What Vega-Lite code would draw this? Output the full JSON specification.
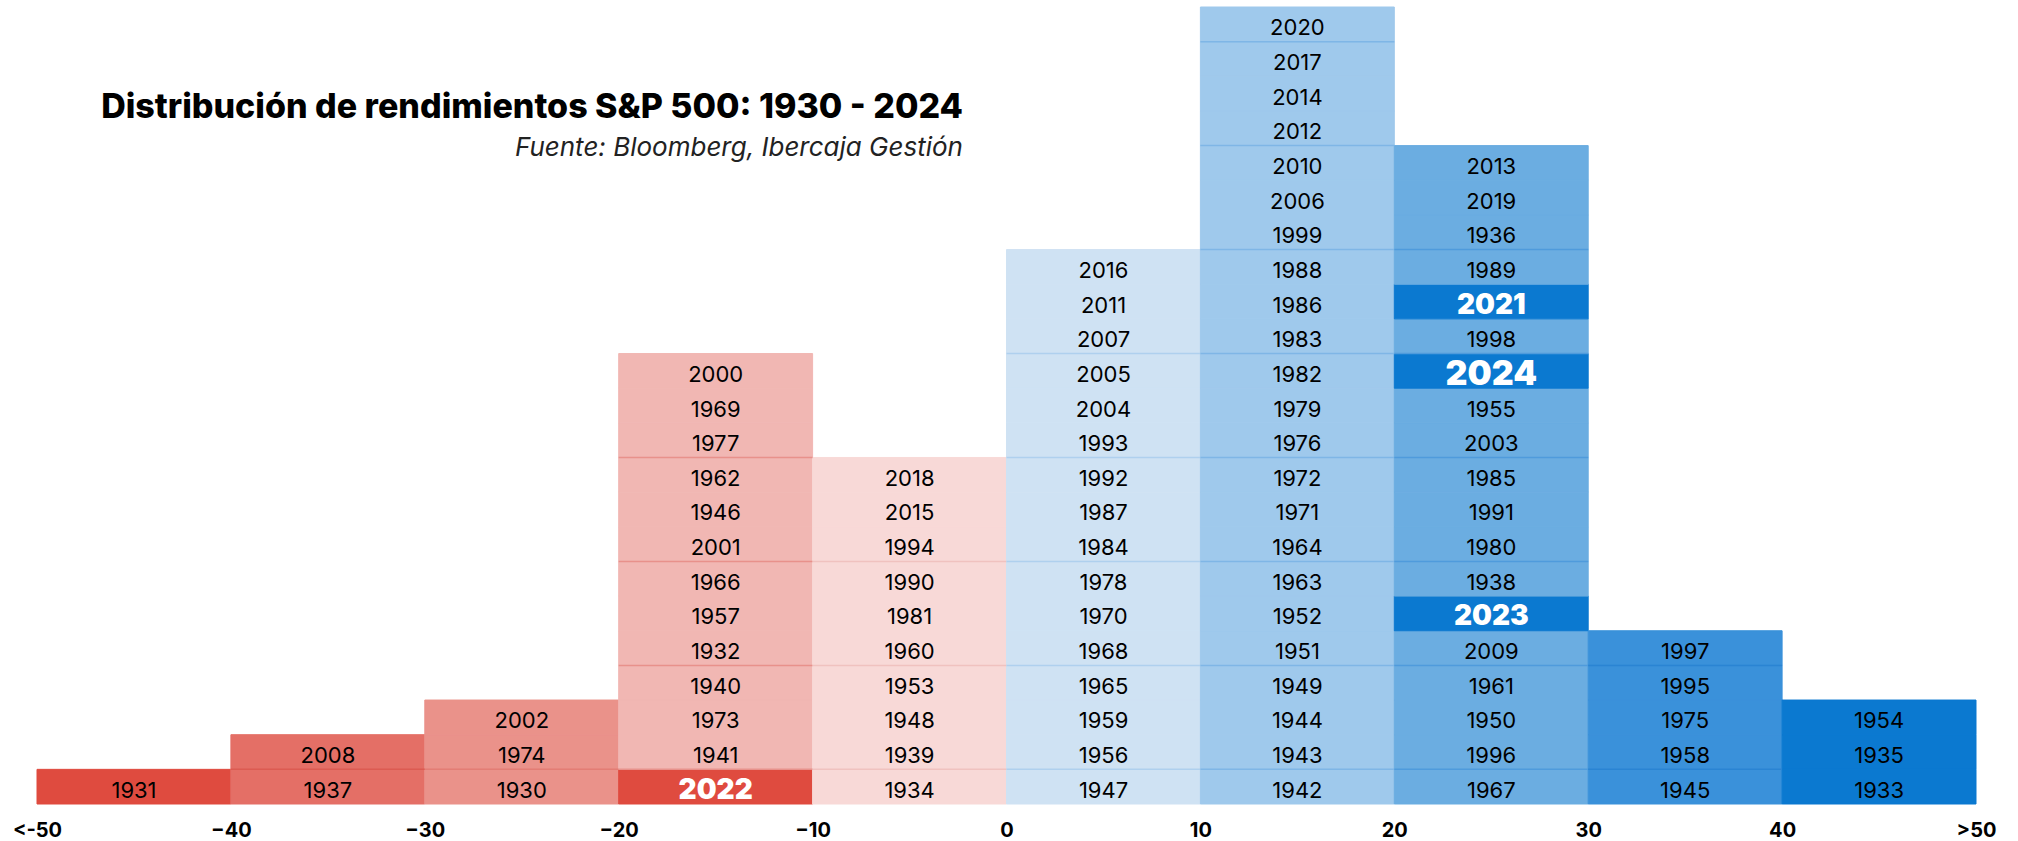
{
  "$schema": "https://vega.github.io/schema/vega-lite/v6.json",
  "width": 1939,
  "height": 797,
  "autosize": {"type": "none"},
  "padding": {"left": 37, "top": 7, "right": 42, "bottom": 37},
  "background": "white",
  "config": {"view": {"stroke": null}},
  "title": {
    "text": "Distribución de rendimientos S&P 500: 1930 - 2024",
    "subtitle": "Fuente: Bloomberg, Ibercaja Gestión",
    "anchor": "end",
    "frame": "group",
    "orient": "top",
    "dx": -1013,
    "dy": 158,
    "font": "Inter",
    "fontSize": 34,
    "fontWeight": 800,
    "color": "black",
    "subtitleFont": "Inter",
    "subtitleFontSize": 26,
    "subtitleFontStyle": "italic",
    "subtitleColor": "#222222",
    "subtitlePadding": 10
  },
  "resolve": {"scale": {"stroke": "independent"}},
  "data": {
    "values": [
      {"year": 1931, "lo": -50, "hi": -40, "rank": 1, "hl": false},
      {"year": 1937, "lo": -40, "hi": -30, "rank": 1, "hl": false},
      {"year": 2008, "lo": -40, "hi": -30, "rank": 2, "hl": false},
      {"year": 1930, "lo": -30, "hi": -20, "rank": 1, "hl": false},
      {"year": 1974, "lo": -30, "hi": -20, "rank": 2, "hl": false},
      {"year": 2002, "lo": -30, "hi": -20, "rank": 3, "hl": false},
      {"year": 2022, "lo": -20, "hi": -10, "rank": 1, "hl": true},
      {"year": 1941, "lo": -20, "hi": -10, "rank": 2, "hl": false},
      {"year": 1973, "lo": -20, "hi": -10, "rank": 3, "hl": false},
      {"year": 1940, "lo": -20, "hi": -10, "rank": 4, "hl": false},
      {"year": 1932, "lo": -20, "hi": -10, "rank": 5, "hl": false},
      {"year": 1957, "lo": -20, "hi": -10, "rank": 6, "hl": false},
      {"year": 1966, "lo": -20, "hi": -10, "rank": 7, "hl": false},
      {"year": 2001, "lo": -20, "hi": -10, "rank": 8, "hl": false},
      {"year": 1946, "lo": -20, "hi": -10, "rank": 9, "hl": false},
      {"year": 1962, "lo": -20, "hi": -10, "rank": 10, "hl": false},
      {"year": 1977, "lo": -20, "hi": -10, "rank": 11, "hl": false},
      {"year": 1969, "lo": -20, "hi": -10, "rank": 12, "hl": false},
      {"year": 2000, "lo": -20, "hi": -10, "rank": 13, "hl": false},
      {"year": 1934, "lo": -10, "hi": 0, "rank": 1, "hl": false},
      {"year": 1939, "lo": -10, "hi": 0, "rank": 2, "hl": false},
      {"year": 1948, "lo": -10, "hi": 0, "rank": 3, "hl": false},
      {"year": 1953, "lo": -10, "hi": 0, "rank": 4, "hl": false},
      {"year": 1960, "lo": -10, "hi": 0, "rank": 5, "hl": false},
      {"year": 1981, "lo": -10, "hi": 0, "rank": 6, "hl": false},
      {"year": 1990, "lo": -10, "hi": 0, "rank": 7, "hl": false},
      {"year": 1994, "lo": -10, "hi": 0, "rank": 8, "hl": false},
      {"year": 2015, "lo": -10, "hi": 0, "rank": 9, "hl": false},
      {"year": 2018, "lo": -10, "hi": 0, "rank": 10, "hl": false},
      {"year": 1947, "lo": 0, "hi": 10, "rank": 1, "hl": false},
      {"year": 1956, "lo": 0, "hi": 10, "rank": 2, "hl": false},
      {"year": 1959, "lo": 0, "hi": 10, "rank": 3, "hl": false},
      {"year": 1965, "lo": 0, "hi": 10, "rank": 4, "hl": false},
      {"year": 1968, "lo": 0, "hi": 10, "rank": 5, "hl": false},
      {"year": 1970, "lo": 0, "hi": 10, "rank": 6, "hl": false},
      {"year": 1978, "lo": 0, "hi": 10, "rank": 7, "hl": false},
      {"year": 1984, "lo": 0, "hi": 10, "rank": 8, "hl": false},
      {"year": 1987, "lo": 0, "hi": 10, "rank": 9, "hl": false},
      {"year": 1992, "lo": 0, "hi": 10, "rank": 10, "hl": false},
      {"year": 1993, "lo": 0, "hi": 10, "rank": 11, "hl": false},
      {"year": 2004, "lo": 0, "hi": 10, "rank": 12, "hl": false},
      {"year": 2005, "lo": 0, "hi": 10, "rank": 13, "hl": false},
      {"year": 2007, "lo": 0, "hi": 10, "rank": 14, "hl": false},
      {"year": 2011, "lo": 0, "hi": 10, "rank": 15, "hl": false},
      {"year": 2016, "lo": 0, "hi": 10, "rank": 16, "hl": false},
      {"year": 1942, "lo": 10, "hi": 20, "rank": 1, "hl": false},
      {"year": 1943, "lo": 10, "hi": 20, "rank": 2, "hl": false},
      {"year": 1944, "lo": 10, "hi": 20, "rank": 3, "hl": false},
      {"year": 1949, "lo": 10, "hi": 20, "rank": 4, "hl": false},
      {"year": 1951, "lo": 10, "hi": 20, "rank": 5, "hl": false},
      {"year": 1952, "lo": 10, "hi": 20, "rank": 6, "hl": false},
      {"year": 1963, "lo": 10, "hi": 20, "rank": 7, "hl": false},
      {"year": 1964, "lo": 10, "hi": 20, "rank": 8, "hl": false},
      {"year": 1971, "lo": 10, "hi": 20, "rank": 9, "hl": false},
      {"year": 1972, "lo": 10, "hi": 20, "rank": 10, "hl": false},
      {"year": 1976, "lo": 10, "hi": 20, "rank": 11, "hl": false},
      {"year": 1979, "lo": 10, "hi": 20, "rank": 12, "hl": false},
      {"year": 1982, "lo": 10, "hi": 20, "rank": 13, "hl": false},
      {"year": 1983, "lo": 10, "hi": 20, "rank": 14, "hl": false},
      {"year": 1986, "lo": 10, "hi": 20, "rank": 15, "hl": false},
      {"year": 1988, "lo": 10, "hi": 20, "rank": 16, "hl": false},
      {"year": 1999, "lo": 10, "hi": 20, "rank": 17, "hl": false},
      {"year": 2006, "lo": 10, "hi": 20, "rank": 18, "hl": false},
      {"year": 2010, "lo": 10, "hi": 20, "rank": 19, "hl": false},
      {"year": 2012, "lo": 10, "hi": 20, "rank": 20, "hl": false},
      {"year": 2014, "lo": 10, "hi": 20, "rank": 21, "hl": false},
      {"year": 2017, "lo": 10, "hi": 20, "rank": 22, "hl": false},
      {"year": 2020, "lo": 10, "hi": 20, "rank": 23, "hl": false},
      {"year": 1967, "lo": 20, "hi": 30, "rank": 1, "hl": false},
      {"year": 1996, "lo": 20, "hi": 30, "rank": 2, "hl": false},
      {"year": 1950, "lo": 20, "hi": 30, "rank": 3, "hl": false},
      {"year": 1961, "lo": 20, "hi": 30, "rank": 4, "hl": false},
      {"year": 2009, "lo": 20, "hi": 30, "rank": 5, "hl": false},
      {"year": 2023, "lo": 20, "hi": 30, "rank": 6, "hl": true},
      {"year": 1938, "lo": 20, "hi": 30, "rank": 7, "hl": false},
      {"year": 1980, "lo": 20, "hi": 30, "rank": 8, "hl": false},
      {"year": 1991, "lo": 20, "hi": 30, "rank": 9, "hl": false},
      {"year": 1985, "lo": 20, "hi": 30, "rank": 10, "hl": false},
      {"year": 2003, "lo": 20, "hi": 30, "rank": 11, "hl": false},
      {"year": 1955, "lo": 20, "hi": 30, "rank": 12, "hl": false},
      {"year": 2024, "lo": 20, "hi": 30, "rank": 13, "hl": true},
      {"year": 1998, "lo": 20, "hi": 30, "rank": 14, "hl": false},
      {"year": 2021, "lo": 20, "hi": 30, "rank": 15, "hl": true},
      {"year": 1989, "lo": 20, "hi": 30, "rank": 16, "hl": false},
      {"year": 1936, "lo": 20, "hi": 30, "rank": 17, "hl": false},
      {"year": 2019, "lo": 20, "hi": 30, "rank": 18, "hl": false},
      {"year": 2013, "lo": 20, "hi": 30, "rank": 19, "hl": false},
      {"year": 1945, "lo": 30, "hi": 40, "rank": 1, "hl": false},
      {"year": 1958, "lo": 30, "hi": 40, "rank": 2, "hl": false},
      {"year": 1975, "lo": 30, "hi": 40, "rank": 3, "hl": false},
      {"year": 1995, "lo": 30, "hi": 40, "rank": 4, "hl": false},
      {"year": 1997, "lo": 30, "hi": 40, "rank": 5, "hl": false},
      {"year": 1933, "lo": 40, "hi": 50, "rank": 1, "hl": false},
      {"year": 1935, "lo": 40, "hi": 50, "rank": 2, "hl": false},
      {"year": 1954, "lo": 40, "hi": 50, "rank": 3, "hl": false}
    ]
  },
  "encoding": {
    "x": {
      "field": "lo",
      "type": "quantitative",
      "scale": {"domain": [-50, 50], "nice": false, "zero": false},
      "axis": {
        "title": null,
        "values": [-50, -40, -30, -20, -10, 0, 10, 20, 30, 40, 50],
        "labelExpr": "datum.value == -50 ? '<-50' : datum.value == 50 ? '>50' : datum.label",
        "domain": false,
        "ticks": false,
        "grid": false,
        "labelFont": "Inter",
        "labelFontSize": 20,
        "labelFontWeight": "bold",
        "labelColor": "black",
        "labelPadding": 16,
        "labelFlush": false,
        "labelOverlap": false
      }
    },
    "y": {
      "field": "rank",
      "type": "ordinal",
      "scale": {
        "domain": [23, 22, 21, 20, 19, 18, 17, 16, 15, 14, 13, 12, 11, 10, 9, 8, 7, 6, 5, 4, 3, 2, 1],
        "paddingInner": 0,
        "paddingOuter": 0
      },
      "axis": null
    }
  },
  "layer": [
    {
      "mark": {"type": "rect", "strokeWidth": 1},
      "encoding": {
        "x2": {"field": "hi"},
        "fill": {
          "condition": [
            {"test": "datum.hl && datum.lo < 0", "value": "#DF4B3F"},
            {"test": "datum.hl", "value": "#0B79D0"}
          ],
          "field": "lo",
          "type": "ordinal",
          "scale": {
            "domain": [-50, -40, -30, -20, -10, 0, 10, 20, 30, 40],
            "range": ["#DF4B3F", "#E46F66", "#EA928A", "#F1B7B3", "#F8D9D7", "#CFE2F3", "#9FC9EC", "#6BADE1", "#3A91DA", "#0B79D0"]
          },
          "legend": null
        },
        "stroke": {
          "condition": [
            {"test": "datum.hl && datum.lo < 0", "value": "#DF4B3F"},
            {"test": "datum.hl", "value": "#0B79D0"}
          ],
          "field": "lo",
          "type": "ordinal",
          "scale": {
            "domain": [-50, -40, -30, -20, -10, 0, 10, 20, 30, 40],
            "range": ["#DF4B3F", "#E46F66", "#EA928A", "#F1B7B3", "#F8D9D7", "#CFE2F3", "#9FC9EC", "#6BADE1", "#3A91DA", "#0B79D0"]
          },
          "legend": null
        }
      }
    },
    {
      "transform": [{"filter": "datum.rank % 3 == 2 && datum.lo < 40"}],
      "mark": {"type": "rule", "strokeWidth": 1.5},
      "encoding": {
        "x2": {"field": "hi"},
        "y": {
          "field": "rank",
          "type": "ordinal",
          "bandPosition": 1,
          "scale": {
            "domain": [23, 22, 21, 20, 19, 18, 17, 16, 15, 14, 13, 12, 11, 10, 9, 8, 7, 6, 5, 4, 3, 2, 1],
            "paddingInner": 0,
            "paddingOuter": 0
          },
          "axis": null
        },
        "stroke": {
          "field": "lo",
          "type": "ordinal",
          "scale": {
            "domain": [-50, -40, -30, -20, -10, 0, 10, 20, 30, 40],
            "range": ["#D43F33", "#DC5B52", "#E37D75", "#E8918B", "#F0C2BF", "#AFD0EE", "#7FB6E6", "#4F9BDC", "#2A84D3", "#0A6DBD"]
          },
          "legend": null
        }
      }
    },
    {
      "transform": [{"filter": "!datum.hl"}],
      "mark": {"type": "text", "font": "Inter", "fontSize": 22, "color": "black", "baseline": "middle", "align": "center", "dx": 97, "dy": 4},
      "encoding": {
        "text": {"field": "year", "type": "nominal"}
      }
    },
    {
      "transform": [{"filter": "datum.hl"}],
      "mark": {"type": "text", "font": "Inter", "fontWeight": 900, "color": "white", "baseline": "middle", "align": "center", "dx": 97, "dy": 4},
      "encoding": {
        "text": {"field": "year", "type": "nominal"},
        "size": {
          "condition": {"test": "datum.year == 2024", "value": 34},
          "value": 28
        }
      }
    }
  ]
}
